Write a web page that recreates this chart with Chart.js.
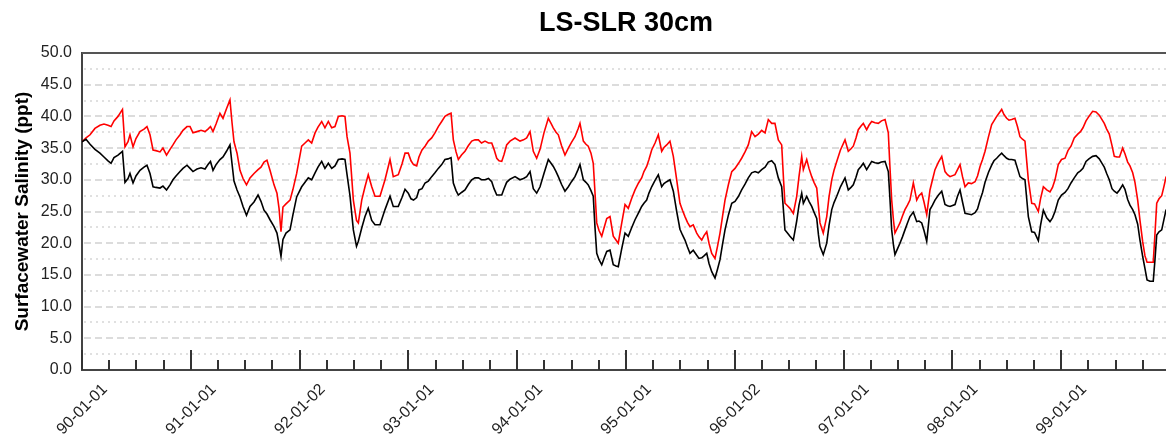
<!DOCTYPE html>
<html>
<head>
<meta charset="utf-8">
<title>LS-SLR 30cm</title>
<script src="https://cdn.jsdelivr.net/npm/chart.js@4.4.1/dist/chart.umd.min.js"></script>
<style>
  html, body { margin: 0; padding: 0; background: #fff; overflow: hidden; }
  #wrap { width: 1250px; height: 443px; }
</style>
</head>
<body>
<div id="wrap"><canvas id="salinityChart" width="1250" height="443"></canvas></div>
<script>
const chartTitle = 'LS-SLR 30cm';
const yAxisTitle = 'Surfacewater Salinity (ppt)';
const yearLabels = ['90-01-01', '91-01-01', '92-01-02', '93-01-01', '94-01-01',
                    '95-01-01', '96-01-02', '97-01-01', '98-01-01', '99-01-01'];

// time in years since 90-01-01
const years = [
  0.000, 0.037, 0.074, 0.119, 0.165, 0.202, 0.239, 0.267, 0.294, 0.331, 0.372, 0.395, 0.423, 0.441, 0.469, 0.496,
  0.533, 0.570, 0.597, 0.625, 0.653, 0.680, 0.717, 0.744, 0.777, 0.809, 0.836, 0.864, 0.901, 0.928, 0.965, 0.993,
  1.020, 1.057, 1.094, 1.131, 1.158, 1.181, 1.204, 1.232, 1.268, 1.296, 1.328, 1.360, 1.379, 1.397, 1.425, 1.452,
  1.480, 1.512, 1.544, 1.581, 1.618, 1.645, 1.673, 1.700, 1.728, 1.765, 1.792, 1.811, 1.829, 1.847, 1.875, 1.912,
  1.939, 1.973, 2.019, 2.050, 2.080, 2.111, 2.142, 2.169, 2.203, 2.233, 2.264, 2.295, 2.325, 2.356, 2.390, 2.417,
  2.436, 2.463, 2.494, 2.523, 2.540, 2.571, 2.601, 2.631, 2.663, 2.693, 2.739, 2.785, 2.831, 2.861, 2.907, 2.941,
  2.969, 2.999, 3.024, 3.047, 3.076, 3.097, 3.125, 3.153, 3.183, 3.214, 3.244, 3.275, 3.306, 3.336, 3.364, 3.392,
  3.413, 3.438, 3.459, 3.488, 3.520, 3.552, 3.582, 3.612, 3.643, 3.672, 3.704, 3.736, 3.766, 3.787, 3.812, 3.833,
  3.858, 3.879, 3.903, 3.934, 3.980, 4.026, 4.058, 4.087, 4.118, 4.148, 4.179, 4.210, 4.246, 4.286, 4.311, 4.332,
  4.357, 4.378, 4.407, 4.439, 4.470, 4.499, 4.531, 4.559, 4.577, 4.608, 4.632, 4.653, 4.678, 4.699, 4.715, 4.731,
  4.752, 4.777, 4.798, 4.823, 4.853, 4.883, 4.908, 4.929, 4.959, 4.991, 5.021, 5.051, 5.083, 5.115, 5.144, 5.165,
  5.190, 5.211, 5.236, 5.267, 5.297, 5.328, 5.349, 5.374, 5.404, 5.435, 5.466, 5.496, 5.519, 5.542, 5.565, 5.588,
  5.618, 5.650, 5.671, 5.696, 5.717, 5.742, 5.763, 5.788, 5.818, 5.841, 5.864, 5.887, 5.910, 5.942, 5.972, 6.002,
  6.034, 6.063, 6.094, 6.124, 6.155, 6.186, 6.216, 6.247, 6.278, 6.308, 6.339, 6.369, 6.400, 6.431, 6.448, 6.461,
  6.484, 6.507, 6.538, 6.569, 6.590, 6.615, 6.630, 6.661, 6.682, 6.707, 6.728, 6.753, 6.769, 6.783, 6.813, 6.845,
  6.866, 6.891, 6.912, 6.937, 6.971, 7.013, 7.043, 7.068, 7.089, 7.114, 7.135, 7.160, 7.181, 7.212, 7.233, 7.258,
  7.289, 7.319, 7.348, 7.381, 7.411, 7.426, 7.442, 7.459, 7.472, 7.495, 7.518, 7.541, 7.564, 7.587, 7.610, 7.641,
  7.672, 7.693, 7.718, 7.739, 7.764, 7.794, 7.817, 7.840, 7.872, 7.902, 7.932, 7.955, 7.978, 8.024, 8.047, 8.070,
  8.093, 8.116, 8.146, 8.176, 8.208, 8.231, 8.254, 8.277, 8.300, 8.332, 8.361, 8.382, 8.407, 8.428, 8.453, 8.474,
  8.499, 8.520, 8.545, 8.575, 8.598, 8.621, 8.644, 8.667, 8.698, 8.729, 8.755, 8.790, 8.810, 8.836, 8.867, 8.897,
  8.920, 8.943, 8.973, 9.003, 9.035, 9.062, 9.090, 9.120, 9.152, 9.177, 9.200, 9.228, 9.255, 9.289, 9.320, 9.350,
  9.375, 9.396, 9.418, 9.442, 9.467, 9.488, 9.513, 9.536, 9.565, 9.586, 9.611, 9.632, 9.657, 9.678, 9.703, 9.724,
  9.749, 9.770, 9.789, 9.816, 9.846, 9.862, 9.878, 9.899, 9.924, 9.945, 9.963, 10.000
];

// red line (ppt)
const seriesRed = [
  36.0, 36.6, 37.1, 38.1, 38.6, 38.8, 38.6, 38.4, 39.3, 40.0, 41.1, 35.2, 36.0, 37.1, 35.2, 36.5,
  37.6, 38.0, 38.4, 37.1, 34.7, 34.6, 34.4, 35.0, 33.9, 34.8, 35.5, 36.3, 37.1, 37.8, 38.4, 38.4,
  37.4, 37.6, 37.8, 37.6, 38.0, 38.4, 37.6, 38.8, 40.5, 39.7, 41.2, 42.6, 39.0, 36.0, 34.2, 31.5,
  30.2, 29.2, 30.3, 31.0, 31.6, 32.0, 32.8, 33.1, 31.5, 29.2, 27.9, 25.5, 21.8, 25.7, 26.2, 26.8,
  28.5, 31.0, 35.3, 35.8, 36.3, 35.8, 37.4, 38.3, 39.2, 38.2, 39.2, 38.2, 38.4, 40.0, 40.1, 40.0,
  36.8, 34.2, 26.8, 23.6, 23.2, 26.8, 28.9, 30.8, 28.9, 27.4, 27.4, 30.0, 33.2, 30.5, 30.8, 32.5,
  34.2, 34.2, 33.0, 32.4, 32.2, 33.6, 34.7, 35.3, 36.1, 36.6, 37.4, 38.4, 39.2, 40.0, 40.3, 40.5,
  36.3, 34.4, 33.2, 33.9, 34.5, 35.4, 36.1, 36.3, 36.3, 35.8, 36.1, 35.8, 35.8, 34.8, 33.4, 33.0,
  32.9, 34.0, 35.5, 36.1, 36.6, 36.1, 36.3, 36.6, 37.6, 34.5, 33.4, 34.8, 37.4, 39.7, 38.9, 38.2,
  37.5, 37.1, 35.4, 33.9, 35.0, 35.9, 36.8, 38.0, 38.9, 36.1, 35.6, 35.3, 34.2, 32.6, 28.0, 23.2,
  22.0, 21.1, 22.4, 23.9, 24.2, 21.1, 20.5, 20.0, 23.0, 26.1, 25.5, 27.0, 28.4, 29.5, 30.3, 31.3,
  32.1, 33.2, 34.7, 35.8, 37.1, 34.5, 35.1, 35.5, 36.1, 33.7, 30.0, 26.3, 25.2, 24.2, 23.3, 22.6,
  22.9, 21.6, 21.0, 20.5, 21.2, 21.8, 20.0, 18.4, 17.6, 19.5, 21.6, 24.2, 26.8, 29.3, 31.3, 31.8,
  32.6, 33.4, 34.4, 35.5, 37.6, 36.8, 37.2, 37.8, 37.4, 39.5, 38.9, 38.9, 36.3, 35.5, 30.0, 26.3,
  25.9, 25.5, 24.7, 27.4, 30.5, 33.7, 31.6, 33.2, 31.8, 30.5, 29.6, 28.7, 25.8, 23.2, 21.6, 24.2,
  27.3, 30.0, 31.5, 32.9, 34.7, 36.3, 34.5, 34.9, 35.3, 36.6, 37.9, 38.5, 38.9, 37.9, 38.6, 39.2,
  39.0, 38.9, 39.3, 39.5, 37.4, 32.0, 26.8, 23.5, 21.6, 22.4, 23.2, 24.3, 25.3, 26.0, 26.8, 29.5,
  26.8, 27.5, 27.9, 26.5, 24.5, 28.4, 30.0, 31.6, 32.8, 33.7, 31.3, 30.8, 30.5, 30.8, 31.6, 32.4,
  30.5, 28.9, 29.5, 29.4, 29.7, 30.6, 32.1, 33.2, 34.5, 36.8, 38.7, 39.3, 40.0, 40.5, 41.1, 40.3,
  39.7, 39.4, 39.5, 39.7, 38.4, 36.8, 36.4, 36.1, 30.0, 26.3, 26.2, 25.0, 27.0, 28.9, 28.4, 28.1,
  28.8, 30.0, 32.4, 33.2, 33.4, 34.6, 35.3, 36.6, 37.2, 37.6, 38.2, 39.3, 40.0, 40.8, 40.7, 40.2,
  39.5, 38.9, 38.0, 37.2, 35.4, 33.7, 33.6, 33.6, 35.0, 34.1, 32.8, 32.2, 31.1, 29.6, 26.8, 23.6,
  20.2, 18.0, 17.0, 17.0, 17.0, 21.5, 26.3, 27.0, 27.5, 29.0, 30.4, 31.0
];

// black line (ppt)
const seriesBlack = [
  36.0, 36.4, 35.6, 34.8, 34.2, 33.6, 33.0, 32.6, 33.5, 33.9, 34.5, 29.6, 30.2, 31.0, 29.5, 30.6,
  31.5, 32.0, 32.3, 31.0, 28.9, 28.8, 28.7, 29.0, 28.4, 29.2, 30.0, 30.6, 31.3, 31.8, 32.3, 31.8,
  31.3, 31.7, 31.9, 31.7, 32.4, 32.9, 31.5, 32.4, 33.2, 33.6, 34.5, 35.5, 32.5, 29.8, 28.4, 27.3,
  25.8, 24.4, 25.8, 26.5, 27.6, 26.6, 25.2, 24.6, 23.7, 22.6, 21.6, 19.8, 17.9, 20.6, 21.6, 22.1,
  24.5, 27.3, 28.9, 29.6, 30.3, 30.0, 31.1, 32.0, 32.9, 31.8, 32.6, 31.8, 32.2, 33.2, 33.3, 33.2,
  30.8, 27.5, 22.1, 19.5, 20.3, 22.4, 24.2, 25.5, 23.6, 22.9, 22.9, 25.3, 27.4, 25.8, 25.8, 27.2,
  28.5, 27.9, 27.0, 26.8, 27.2, 28.4, 28.6, 29.5, 29.8, 30.5, 31.1, 31.8, 32.4, 33.2, 33.3, 33.5,
  29.5, 28.3, 27.6, 28.0, 28.4, 29.3, 30.0, 30.3, 30.3, 30.0, 30.0, 30.2, 29.7, 28.6, 27.6, 27.6,
  27.6, 28.6, 29.6, 30.1, 30.5, 30.0, 30.2, 30.5, 31.3, 28.6, 27.9, 28.9, 31.0, 33.2, 32.6, 32.1,
  31.3, 30.5, 29.3, 28.2, 28.9, 29.7, 30.5, 31.6, 32.4, 30.0, 29.6, 29.2, 28.3, 27.4, 22.5, 18.4,
  17.4, 16.6, 17.6, 18.7, 18.9, 16.6, 16.4, 16.3, 19.0, 21.6, 21.1, 22.4, 23.7, 24.8, 25.8, 26.3,
  26.8, 27.9, 28.9, 29.9, 30.8, 28.9, 29.4, 29.7, 30.0, 28.2, 25.0, 22.2, 21.3, 20.5, 19.4, 18.4,
  18.9, 18.1, 17.6, 17.7, 18.0, 18.4, 16.8, 15.5, 14.5, 15.9, 17.4, 19.8, 22.1, 24.5, 26.3, 26.6,
  27.4, 28.4, 29.3, 30.3, 31.1, 31.3, 31.1, 31.6, 32.0, 32.8, 33.0, 32.4, 30.3, 28.9, 25.0, 22.1,
  21.6, 21.1, 20.5, 23.5, 26.0, 27.9, 26.3, 27.4, 26.6, 25.8, 24.9, 23.9, 21.3, 19.5, 18.2, 20.0,
  22.8, 25.3, 26.4, 27.4, 28.9, 30.3, 28.4, 28.8, 29.2, 30.4, 31.6, 32.1, 32.6, 31.6, 32.2, 32.9,
  32.7, 32.6, 32.8, 32.9, 31.3, 27.0, 22.1, 19.6, 18.2, 19.1, 20.0, 21.0, 22.1, 23.2, 24.2, 24.9,
  23.4, 23.5, 23.2, 22.0, 20.3, 25.3, 26.0, 26.8, 27.6, 28.2, 26.1, 25.9, 25.8, 26.1, 27.4, 28.4,
  26.5, 24.7, 24.6, 24.5, 24.8, 25.4, 26.8, 28.0, 29.6, 31.2, 32.3, 33.0, 33.4, 33.8, 34.2, 33.8,
  33.4, 33.2, 33.2, 33.1, 31.8, 30.5, 30.2, 30.0, 24.2, 21.8, 21.7, 20.4, 22.8, 25.2, 24.0, 23.4,
  24.0, 25.0, 26.8, 27.6, 28.0, 28.6, 29.5, 30.3, 31.1, 31.4, 31.8, 32.9, 33.3, 33.7, 33.8, 33.3,
  32.6, 32.0, 31.0, 30.0, 28.6, 28.2, 27.9, 28.4, 29.2, 28.5, 26.9, 26.0, 25.3, 24.5, 23.0, 20.5,
  17.9, 16.0, 14.2, 14.0, 14.0, 17.4, 21.3, 21.8, 22.1, 23.8, 25.2, 25.8
];

Chart.defaults.font.family = "'Liberation Sans', Arial, sans-serif";
Chart.defaults.color = '#222';

const toPoints = vals => years.map((t, i) => ({ x: t, y: vals[i] }));
const isYear = v => Math.abs(v - Math.round(v)) < 1e-6;

// dashed/dotted horizontal grid, top frame line and the inward tick marks
const framePlugin = {
  id: 'frame',
  beforeDatasetsDraw(chart) {
    const { ctx, chartArea: a, scales: { y } } = chart;
    ctx.save();
    y.ticks.forEach(t => {
      if (t.value <= 0 || t.value >= 50) return;
      const major = t.value % 5 === 0;
      const py = Math.round(y.getPixelForValue(t.value));
      ctx.beginPath();
      ctx.setLineDash(major ? [7, 4] : [2, 4]);
      ctx.lineWidth = major ? 2 : 1.5;
      ctx.strokeStyle = major ? '#dcdcdc' : '#d6d6d6';
      ctx.moveTo(a.left + 2, py);
      ctx.lineTo(a.right, py);
      ctx.stroke();
    });
    ctx.restore();
  },
  afterDraw(chart) {
    const { ctx, chartArea: a, scales: { x } } = chart;
    ctx.save();
    ctx.lineWidth = 2;
    ctx.strokeStyle = '#555';
    ctx.beginPath();
    ctx.moveTo(a.left, a.top);
    ctx.lineTo(a.right, a.top);
    ctx.stroke();
    ctx.strokeStyle = '#333';
    x.ticks.forEach(t => {
      const px = Math.round(x.getPixelForValue(t.value));
      const len = isYear(t.value) ? 20 : 10;
      ctx.beginPath();
      ctx.moveTo(px, a.bottom);
      ctx.lineTo(px, a.bottom - len);
      ctx.stroke();
    });
    ctx.restore();
  }
};

new Chart(document.getElementById('salinityChart'), {
  type: 'line',
  data: {
    datasets: [
      { label: 'black', data: toPoints(seriesBlack), borderColor: '#000000', borderWidth: 1.6, pointRadius: 0, tension: 0 },
      { label: 'red', data: toPoints(seriesRed), borderColor: '#ff0000', borderWidth: 1.6, pointRadius: 0, tension: 0 }
    ]
  },
  options: {
    responsive: false,
    animation: false,
    devicePixelRatio: 1,
    layout: { padding: { left: 0, right: 80, top: 0, bottom: 0 } },
    plugins: {
      legend: { display: false },
      tooltip: { enabled: false },
      title: {
        display: true,
        fullSize: false,
        text: chartTitle,
        color: '#000',
        font: { size: 27, weight: 'bold' },
        padding: { top: 7, bottom: 13.6 }
      }
    },
    scales: {
      x: {
        type: 'linear',
        min: 0,
        max: 10,
        grid: { display: false, drawTicks: false },
        border: { display: true, color: '#444', width: 2 },
        ticks: {
          stepSize: 0.25,
          autoSkip: false,
          minRotation: 45,
          maxRotation: 45,
          labelOffset: 23,
          padding: 10,
          font: { size: 16 },
          callback: v => (isYear(v) && yearLabels[Math.round(v)]) ? yearLabels[Math.round(v)] : ''
        },
        afterFit: s => { s.height = 73; s.paddingLeft = 0; s.paddingRight = 0; }
      },
      y: {
        min: 0,
        max: 50,
        grid: { display: false, drawTicks: false },
        border: { display: true, color: '#444', width: 2 },
        ticks: {
          stepSize: 2.5,
          autoSkip: false,
          padding: 10,
          font: { size: 16 },
          callback: v => v % 5 === 0 ? v.toFixed(1) : ''
        },
        title: {
          display: true,
          text: yAxisTitle,
          color: '#000',
          font: { size: 19, weight: 'bold' },
          padding: { top: 11, bottom: 0 }
        },
        afterFit: s => { s.width = 82; s.paddingTop = 0; s.paddingBottom = 0; }
      }
    }
  },
  plugins: [framePlugin]
});
</script>
</body>
</html>
